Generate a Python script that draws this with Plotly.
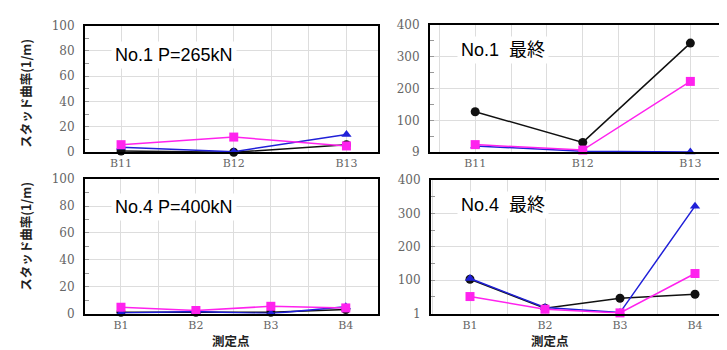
import plotly.graph_objects as go

W, H = 727, 350

cats_no1 = ["B11", "B12", "B13"]
cats_no4 = ["B1", "B2", "B3", "B4"]

# No.1 P=265kN
no1_p_black = [1, 0, 6]
no1_p_magenta = [6, 12, 5]
no1_p_blue = [4, 0.5, 14]
# No.1 final
no1_f_black = [127, 31, 342]
no1_f_magenta = [24, 7, 222]
no1_f_blue = [20, 3, 1]
# No.4 P=400kN
no4_p_black = [1, 1, 1, 3]
no4_p_magenta = [4.7, 2.3, 5.4, 4.2]
no4_p_blue = [0.5, 1.5, 0, 5]
# No.4 final
no4_f_black = [103, 16, 46, 58]
no4_f_magenta = [51, 13, 2, 120]
no4_f_blue = [105, 18, 3, 322]

left_ticks = [0, 20, 40, 60, 80, 100]
left_ticktext = ["0", "20", "40", "60", "80", "100"]
tr_ticks = [0, 100, 200, 300, 400]
tr_ticktext = ["9", "100", "200", "300", "400"]
br_ticktext = ["1", "100", "200", "300", "400"]

panel_titles = ["No.1 P=265kN", "No.1  最終", "No.4 P=400kN", "No.4  最終"]
ytitle = "スタッド曲率(1/m)"
xtitle = "測定点"

BLACK = "#111111"
MAGENTA = "#ff22ee"
BLUE = "#2020d8"

fig = go.Figure()

def px_x(a, b):
    return [a / W, b / W]

def px_y(top, bottom):
    return [1 - bottom / H, 1 - top / H]

panels = [
    ("", cats_no1, (no1_p_black, no1_p_blue, no1_p_magenta), px_x(77, 370), px_y(11, 143), [-0.32, 2.28], [0, 100], left_ticks, left_ticktext, 1/3, 10),
    ("2", cats_no1, (no1_f_black, no1_f_blue, no1_f_magenta), px_x(422, 720), px_y(10, 143), [-0.42, 2.35], [0, 400], tr_ticks, tr_ticktext, 1/3, 50),
    ("3", cats_no4, (no4_p_black, no4_p_blue, no4_p_magenta), px_x(77, 370), px_y(171, 311), [-0.48, 3.43], [0, 100], left_ticks, left_ticktext, 0.5, 10),
    ("4", cats_no4, (no4_f_black, no4_f_blue, no4_f_magenta), px_x(423, 720), px_y(172, 311), [-0.52, 3.44], [0, 400], tr_ticks, br_ticktext, 0.5, 50),
]

ytickfont = dict(family="DejaVu Serif", size=12, color="#666666")
xtickfont = dict(family="DejaVu Serif", size=11, color="#666666")
layout = {}
for suf, cats, series, xd, yd, xr, yr, yt, ytt, mdx, mdy in panels:
    xs = list(range(len(cats)))
    blk, blu, mag = series
    for vals, col, sym, sz in ((blk, BLACK, "circle", 9), (blu, BLUE, "triangle-up", 9), (mag, MAGENTA, "square", 9)):
        fig.add_trace(go.Scatter(
            x=xs, y=vals, mode="lines+markers",
            line=dict(color=col, width=1.5),
            marker=dict(color=col, symbol=sym, size=sz),
            xaxis="x" + suf, yaxis="y" + suf, showlegend=False, cliponaxis=False,
        ))
    layout["xaxis" + suf] = dict(
        domain=xd, range=xr, anchor="y" + suf,
        tickvals=xs, ticktext=cats, tickfont=xtickfont, ticks="",
        showgrid=True, gridcolor="#dddddd", gridwidth=1,
        minor=dict(dtick=mdx, tick0=0, showgrid=True, gridcolor="#dddddd", gridwidth=1),
        showline=True, linecolor="black", linewidth=2, mirror=True, zeroline=False,
        fixedrange=True,
    )
    layout["yaxis" + suf] = dict(
        domain=yd, range=yr, anchor="x" + suf,
        tickvals=yt, ticktext=ytt, tickfont=ytickfont, ticks="inside", ticklen=4, tickcolor="#999999",
        ticklabelstandoff=6,
        showgrid=True, gridcolor="#dddddd", gridwidth=1,
        minor=dict(dtick=mdy, tick0=0, ticks="inside", ticklen=4, tickcolor="#999999", showgrid=False),
        showline=True, linecolor="black", linewidth=2, mirror=True, zeroline=False,
        fixedrange=True,
    )

annos = []
title_pos = [(103, 42), (449, 36), (103, 200), (449, 198)]
for t, (ax, ay) in zip(panel_titles, title_pos):
    annos.append(dict(
        x=ax / W, y=1 - ay / H, xref="paper", yref="paper", xanchor="left", yanchor="middle",
        text=t, showarrow=False, bgcolor="white", borderpad=3,
        font=dict(family="Liberation Sans, Noto Sans CJK JP", size=18, color="black"),
    ))
for cy in (82, 231):
    annos.append(dict(
        x=18 / W, y=1 - cy / H, xref="paper", yref="paper", xanchor="center", yanchor="middle",
        text="<b>" + ytitle + "</b>", textangle=-90, showarrow=False,
        font=dict(family="Noto Sans CJK JP", size=12.5, color="#222222"),
    ))
for cx in (223, 542):
    annos.append(dict(
        x=cx / W, y=1 - 350 / H, xref="paper", yref="paper", xanchor="center", yanchor="bottom",
        text="<b>" + xtitle + "</b>", showarrow=False, borderpad=0,
        font=dict(family="Noto Sans CJK JP", size=12.5, color="#222222"),
    ))

fig.update_layout(
    width=W, height=H, margin=dict(l=0, r=0, t=0, b=0),
    paper_bgcolor="white", plot_bgcolor="white",
    annotations=annos, **layout,
)

fig.write_html("out.html", config={"displayModeBar": False})
